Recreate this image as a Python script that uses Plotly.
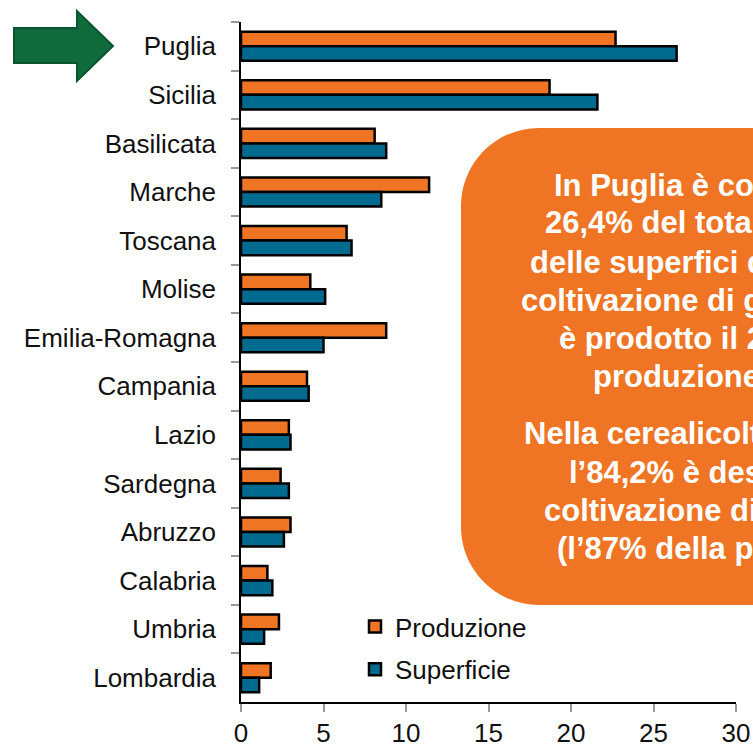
import plotly.graph_objects as go

# Data
regioni = ["Puglia", "Sicilia", "Basilicata", "Marche", "Toscana", "Molise",
           "Emilia-Romagna", "Campania", "Lazio", "Sardegna", "Abruzzo",
           "Calabria", "Umbria", "Lombardia"]
produzione = [22.7, 18.7, 8.1, 11.4, 6.4, 4.2, 8.8, 4.0, 2.9, 2.4, 3.0, 1.6, 2.3, 1.8]
superficie = [26.4, 21.6, 8.8, 8.5, 6.7, 5.1, 5.0, 4.1, 3.0, 2.9, 2.6, 1.9, 1.4, 1.1]
x_ticks = [0, 5, 10, 15, 20, 25, 30]

box_lines = [
    "In Puglia è concentrato il",
    "26,4% del totale nazionale",
    "delle superfici destinate alla",
    "coltivazione di grano duro ed",
    "è prodotto il 22,7% della",
    "produzione nazionale.",
    "Nella cerealicoltura pugliese",
    "l’84,2% è destinato alla",
    "coltivazione di grano duro",
    "(l’87% della produzione)",
]

ORANGE = "#EF7423"
BLUE = "#006A8F"
W, H = 753, 746
ML, MR, MT, MB = 241, 17, 22, 44
PW, PH = W - ML - MR, H - MT - MB


# pixel -> paper helpers (for the decorative shapes)
def px(x):
    return (x - ML) / PW


def py(y):
    return (H - MB - y) / PH


fig = go.Figure()
fig.add_trace(go.Bar(y=regioni, x=produzione, name="Produzione", orientation="h",
                     legendgroup="p",
                     marker=dict(color=ORANGE, line=dict(color="black", width=2.5))))
fig.add_trace(go.Bar(y=regioni, x=superficie, name="Superficie", orientation="h",
                     legendgroup="s",
                     marker=dict(color=BLUE, line=dict(color="black", width=2.5))))

# rounded orange box
x0, x1, y0, y1, r = 461, 820, 128, 605, 78
k = 0.55 * r
path = (f"M {px(x0 + r)},{py(y0)} L {px(x1)},{py(y0)} L {px(x1)},{py(y1)} "
        f"L {px(x0 + r)},{py(y1)} "
        f"C {px(x0 + r - k)},{py(y1)} {px(x0)},{py(y1 - r + k)} {px(x0)},{py(y1 - r)} "
        f"L {px(x0)},{py(y0 + r)} "
        f"C {px(x0)},{py(y0 + r - k)} {px(x0 + r - k)},{py(y0)} {px(x0 + r)},{py(y0)} Z")
shapes = [dict(type="path", xref="paper", yref="paper", path=path,
               fillcolor=ORANGE, line=dict(width=0), layer="below")]

# green arrow
arrow = [(14, 28), (77, 28), (77, 11), (113, 46), (77, 81), (77, 63), (14, 63)]
apath = "M " + " L ".join(f"{px(a)},{py(b)}" for a, b in arrow) + " Z"
shapes.append(dict(type="path", xref="paper", yref="paper", path=apath,
                   fillcolor="#0F6B3B", line=dict(color="#0A5530", width=2)))

line_x = [552, 543, 528, 519, 557, 591, 522, 567, 542, 555]
line_y = [185, 223, 262, 300, 338, 377, 433, 472, 510, 548]
annotations = []
for t, lx, ly in zip(box_lines, line_x, line_y):
    annotations.append(dict(x=px(lx), y=py(ly), xref="paper", yref="paper",
                            xanchor="left", yanchor="middle", showarrow=False,
                            text="<b>" + t + "</b>",
                            font=dict(family="Liberation Sans", size=31, color="white")))

fig.update_layout(
    width=W, height=H,
    margin=dict(l=ML, r=MR, t=MT, b=MB),
    paper_bgcolor="white", plot_bgcolor="white",
    barmode="group", bargap=0.4, bargroupgap=0,
    font=dict(family="Liberation Sans", size=26, color="#111"),
    shapes=shapes, annotations=annotations,
    legend=dict(x=px(355), y=py(603), xanchor="left", yanchor="top",
                font=dict(size=26), bgcolor="rgba(0,0,0,0)", tracegroupgap=6),
    showlegend=True,
)
fig.update_xaxes(range=[0, 30], tickvals=x_ticks, showgrid=False, zeroline=False,
                 showline=True, linecolor="black", linewidth=1.5,
                 ticks="outside", ticklen=8, tickcolor="#999", tickwidth=1.5,
                 ticklabelstandoff=-1, automargin=False)
fig.update_yaxes(autorange="reversed", showgrid=False, zeroline=False,
                 showline=True, linecolor="black", linewidth=1.5,
                 ticks="outside", ticklen=8, tickcolor="#999", tickwidth=1.5,
                 tickson="boundaries", ticklabelstandoff=18, automargin=False)

# drop the default body margin so the figure fills the window exactly
fig.write_html("out.html", config={"displayModeBar": False},
               post_script="document.body.style.margin='0';document.body.style.overflow='hidden';")
